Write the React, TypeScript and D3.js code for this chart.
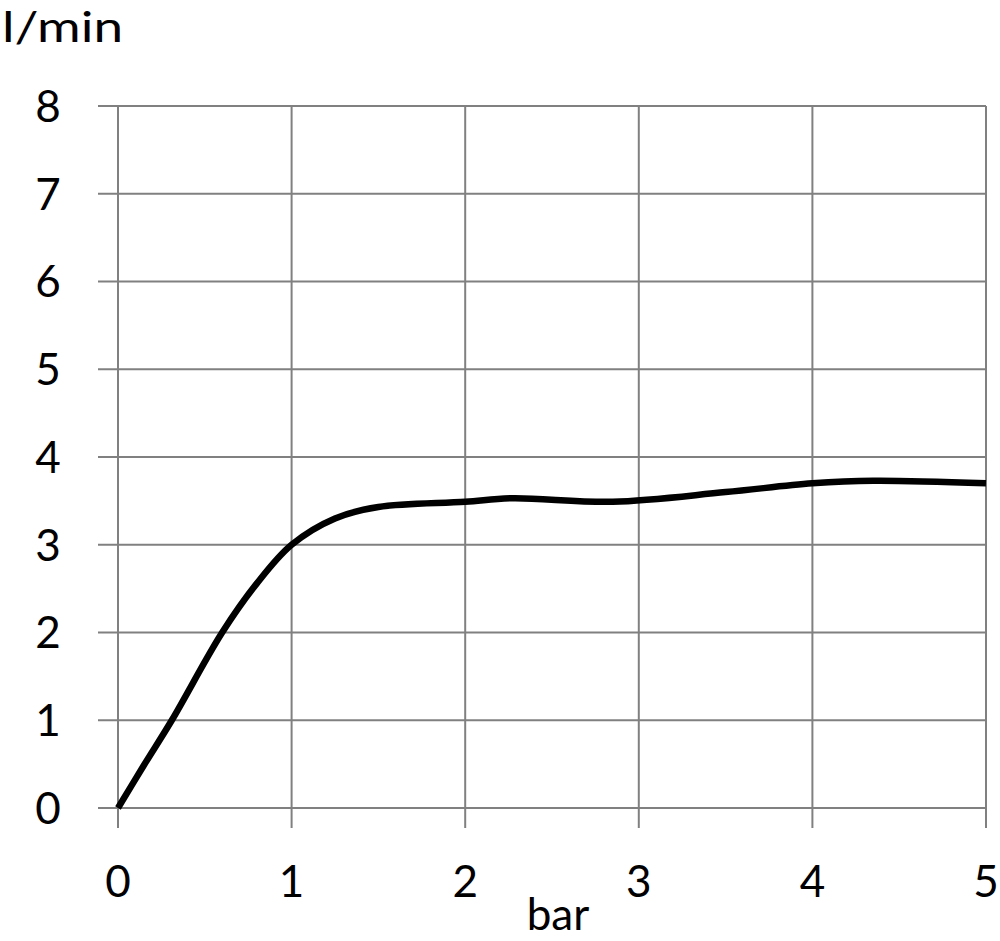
import React from "react";
import * as d3 from "d3";

const xTicks = [0, 1, 2, 3, 4, 5];
const yTicks = [0, 1, 2, 3, 4, 5, 6, 7, 8];
const pressure = [0, 0.15, 0.31, 0.6, 0.8, 1, 1.25, 1.5, 2, 2.27, 2.85, 3.5, 4, 4.35, 5];
const flow = [0, 0.49, 1, 2, 2.56, 3, 3.3, 3.43, 3.49, 3.53, 3.49, 3.6, 3.7, 3.73, 3.7];
const xLabel = "bar";
const yLabel = "l/min";

export default function App() {
  const W = 1000, H = 941;
  const x = d3.scaleLinear().domain([0, 5]).range([118, 986]);
  const y = d3.scaleLinear().domain([0, 8]).range([808, 106]);
  const pts = pressure.map((p, i) => [p, flow[i]] as [number, number]);
  const line = d3.line<[number, number]>().x(d => x(d[0])).y(d => y(d[1])).curve(d3.curveCatmullRom.alpha(0.5));
  const font = "Lato, 'Open Sans', sans-serif";
  const grid = "#808080";
  return (
    <svg width={W} height={H} style={{ position: "absolute", left: 0, top: 0, background: "#fff" }}>
      <rect width={W} height={H} fill="#fff" />
      {yTicks.map(t => (
        <line key={"h" + t} x1={98} x2={986} y1={y(t)} y2={y(t)} stroke={grid} strokeWidth={2} />
      ))}
      {xTicks.map(t => (
        <line key={"v" + t} x1={x(t)} x2={x(t)} y1={106} y2={828} stroke={grid} strokeWidth={2} />
      ))}
      <path d={line(pts) || ""} fill="none" stroke="#000" strokeWidth={6.5} strokeLinecap="butt" />
      {yTicks.map(t => (
        <text key={"yl" + t} x={48} y={y(t)} dy="0.36em" textAnchor="middle" fontFamily={font} fontSize={44} fill="#000">{t}</text>
      ))}
      {xTicks.map(t => (
        <text key={"xl" + t} x={x(t)} y={897} textAnchor="middle" fontFamily={font} fontSize={44} fill="#000">{t}</text>
      ))}
      <text x={558} y={930} textAnchor="middle" fontFamily={font} fontSize={44} fill="#000">{xLabel}</text>
      <text x={2} y={42} fontFamily={font} fontSize={42} textLength={121} lengthAdjust="spacingAndGlyphs" fill="#000">{yLabel}</text>
    </svg>
  );
}
